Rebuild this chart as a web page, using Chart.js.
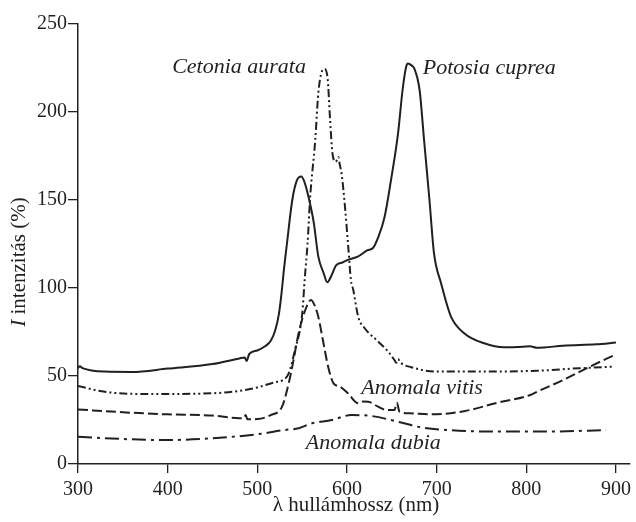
<!DOCTYPE html>
<html>
<head>
<meta charset="utf-8">
<script src="https://cdn.jsdelivr.net/npm/chart.js@4/dist/chart.umd.min.js"></script>
<style>
  html, body { margin: 0; padding: 0; background: #fff; }
</style>
</head>
<body>
<canvas id="spectra" width="636" height="522"></canvas>
<script>
// wavelength (nm) and intensity (%), one pair per beetle
const potosiaNm = [300, 302, 305, 330, 360, 400, 450, 480, 486, 488, 491, 500, 509, 515, 520, 524, 527, 530, 533, 539, 544, 549, 552, 557, 563, 568, 574, 578, 583, 588, 595, 601, 612, 623, 629, 635, 642, 649, 657, 662, 666, 668, 672, 675, 681, 686, 692, 697, 705, 716, 731, 753, 775, 790, 804, 812, 820, 841, 878, 900];
const potosiaI = [54.5, 55.5, 54.5, 52.5, 52.3, 54.2, 56.8, 60, 60.5, 58.5, 62.5, 64.5, 67, 70, 76, 85, 97, 112, 125, 150, 161, 163.3, 161, 152, 137, 118, 108.4, 103.2, 107.4, 113, 114.5, 116, 117.8, 121.5, 122.7, 129, 140.5, 161, 188, 212.5, 225.7, 227.6, 226.5, 224.8, 212.5, 184, 150, 120, 102.6, 83.7, 74.2, 68.6, 66.3, 66.5, 66.9, 66, 66.2, 67.2, 68, 69];

const cetoniaNm = [300, 330, 370, 400, 450, 480, 500, 520, 528, 535, 542, 550, 553, 556, 559, 564.6, 568, 572, 575, 578.6, 581, 583.8, 587.4, 589, 590.4, 592, 594, 597.8, 601.4, 604.4, 607, 612.5, 620, 635, 646, 653, 655, 657, 660, 671.5, 701, 767.5, 812, 859, 897];
const cetoniaI = [44.3, 41, 39.8, 39.8, 40.2, 41.5, 43.5, 46.5, 47.5, 51.5, 64.8, 85, 106, 125, 152, 184, 210.6, 223, 224.5, 218, 197, 176.5, 171.8, 173, 174.5, 170, 165, 146, 123.5, 104.5, 99, 83.7, 77, 69.5, 63.8, 59, 57.5, 59.5, 57.5, 55, 52.5, 52.5, 53, 54.4, 55.3];

const vitisNm = [300, 350, 400, 450, 480, 485, 487, 489, 500, 515, 527.6, 535, 540, 546, 553.5, 560, 564, 568, 573.8, 579, 585, 592, 601, 612.5, 618, 623.6, 634.7, 644, 653, 655.7, 658.6, 670, 693.7, 730.6, 767.5, 804.4, 811.7, 841, 870.8, 900];
const vitisI = [31, 29.4, 28.2, 27.5, 26, 26, 27.8, 25.4, 25.5, 27.8, 32.6, 45.8, 58, 74.2, 87.5, 93.2, 90, 83.7, 68.6, 55.3, 45.8, 44, 40.2, 34.5, 35.5, 35.4, 32.6, 30.7, 30.7, 34.8, 29.7, 28.8, 28.2, 30, 34.8, 39.2, 41, 47.7, 55.3, 62.3];

const dubiaNm = [300, 350, 400, 450, 500, 530, 546, 560, 583, 605, 627, 657, 682.6, 712, 767.5, 823, 889];
const dubiaI = [15.5, 14.2, 13.6, 14.6, 16.9, 19.3, 20.3, 23, 25, 27.8, 27.3, 24, 20.8, 19.3, 18.4, 18.4, 19.3];

const xTicks = [300, 400, 500, 600, 700, 800, 900];
const yTicks = [0, 50, 100, 150, 200, 250];

const seriesNames = ['Potosia cuprea', 'Cetonia aurata', 'Anomala vitis', 'Anomala dubia'];
// where each name is written, in data units (left edge, vertical middle)
const labelNm = [684.5, 405, 616, 554];
const labelI = [225, 225.5, 43.2, 12];

const ink = '#231f20';
const serif = '"Liberation Serif", "Times New Roman", serif';

function pairs(xs, ys) {
    return xs.map((x, i) => ({ x: x, y: ys[i] }));
}

function line(name, xs, ys, dash) {
    return {
        label: name,
        data: pairs(xs, ys),
        borderColor: ink,
        borderWidth: 2,
        borderDash: dash,
        pointRadius: 0,
        fill: false,
        cubicInterpolationMode: 'monotone'
    };
}

const textPlugin = {
    id: 'texts',
    afterDraw(chart) {
        const ctx = chart.ctx;
        const x = chart.scales.x;
        const y = chart.scales.y;
        ctx.save();
        ctx.fillStyle = ink;
        ctx.textBaseline = 'middle';

        // curve names
        ctx.font = 'italic 22px ' + serif;
        ctx.textAlign = 'left';
        seriesNames.forEach((name, i) => {
            ctx.fillText(name, x.getPixelForValue(labelNm[i]), y.getPixelForValue(labelI[i]));
        });

        // x title
        ctx.font = '21px ' + serif;
        ctx.textAlign = 'center';
        ctx.fillText('λ hullámhossz (nm)', 356, 505);

        // y title, italic I then the rest
        ctx.translate(19, 262);
        ctx.rotate(-Math.PI / 2);
        ctx.textAlign = 'left';
        ctx.font = 'italic 21px ' + serif;
        const w1 = ctx.measureText('I').width;
        ctx.font = '21px ' + serif;
        const rest = ' intenzitás (%)';
        const w2 = ctx.measureText(rest).width;
        const start = -(w1 + w2) / 2;
        ctx.font = 'italic 21px ' + serif;
        ctx.fillText('I', start, 0);
        ctx.font = '21px ' + serif;
        ctx.fillText(rest, start + w1, 0);
        ctx.restore();
    }
};

const ctx = document.getElementById('spectra').getContext('2d');
const chart = new Chart(ctx, {
    type: 'line',
    data: {
        datasets: [
            line(seriesNames[0], potosiaNm, potosiaI, []),
            line(seriesNames[1], cetoniaNm, cetoniaI, [8, 3, 2, 3, 2, 3]),
            line(seriesNames[2], vitisNm, vitisI, [10, 4]),
            line(seriesNames[3], dubiaNm, dubiaI, [14, 5, 3, 5])
        ]
    },
    options: {
        responsive: false,
        animation: false,
        layout: { padding: { top: 24, right: 2, left: 0, bottom: 0 } },
        plugins: {
            legend: { display: false },
            tooltip: { enabled: false }
        },
        scales: {
            x: {
                type: 'linear',
                min: 300,
                max: 915,
                afterBuildTicks: scale => {
                    scale.ticks = xTicks.map(v => ({ value: v }));
                },
                afterFit: scale => { scale.height = 58; },
                grid: { drawOnChartArea: false, tickLength: 9, color: ink, lineWidth: 1.3 },
                border: { color: ink, width: 1.5 },
                ticks: { color: ink, padding: 5, maxRotation: 0, font: { family: serif, size: 20 } }
            },
            y: {
                min: 0,
                max: 250,
                afterBuildTicks: scale => {
                    scale.ticks = yTicks.map(v => ({ value: v }));
                },
                afterFit: scale => { scale.width = 78; },
                grid: { drawOnChartArea: false, tickLength: 10, color: ink, lineWidth: 1.3 },
                border: { color: ink, width: 1.5 },
                ticks: { color: ink, padding: 1, font: { family: serif, size: 20 } }
            }
        }
    },
    plugins: [textPlugin]
});
</script>
</body>
</html>
